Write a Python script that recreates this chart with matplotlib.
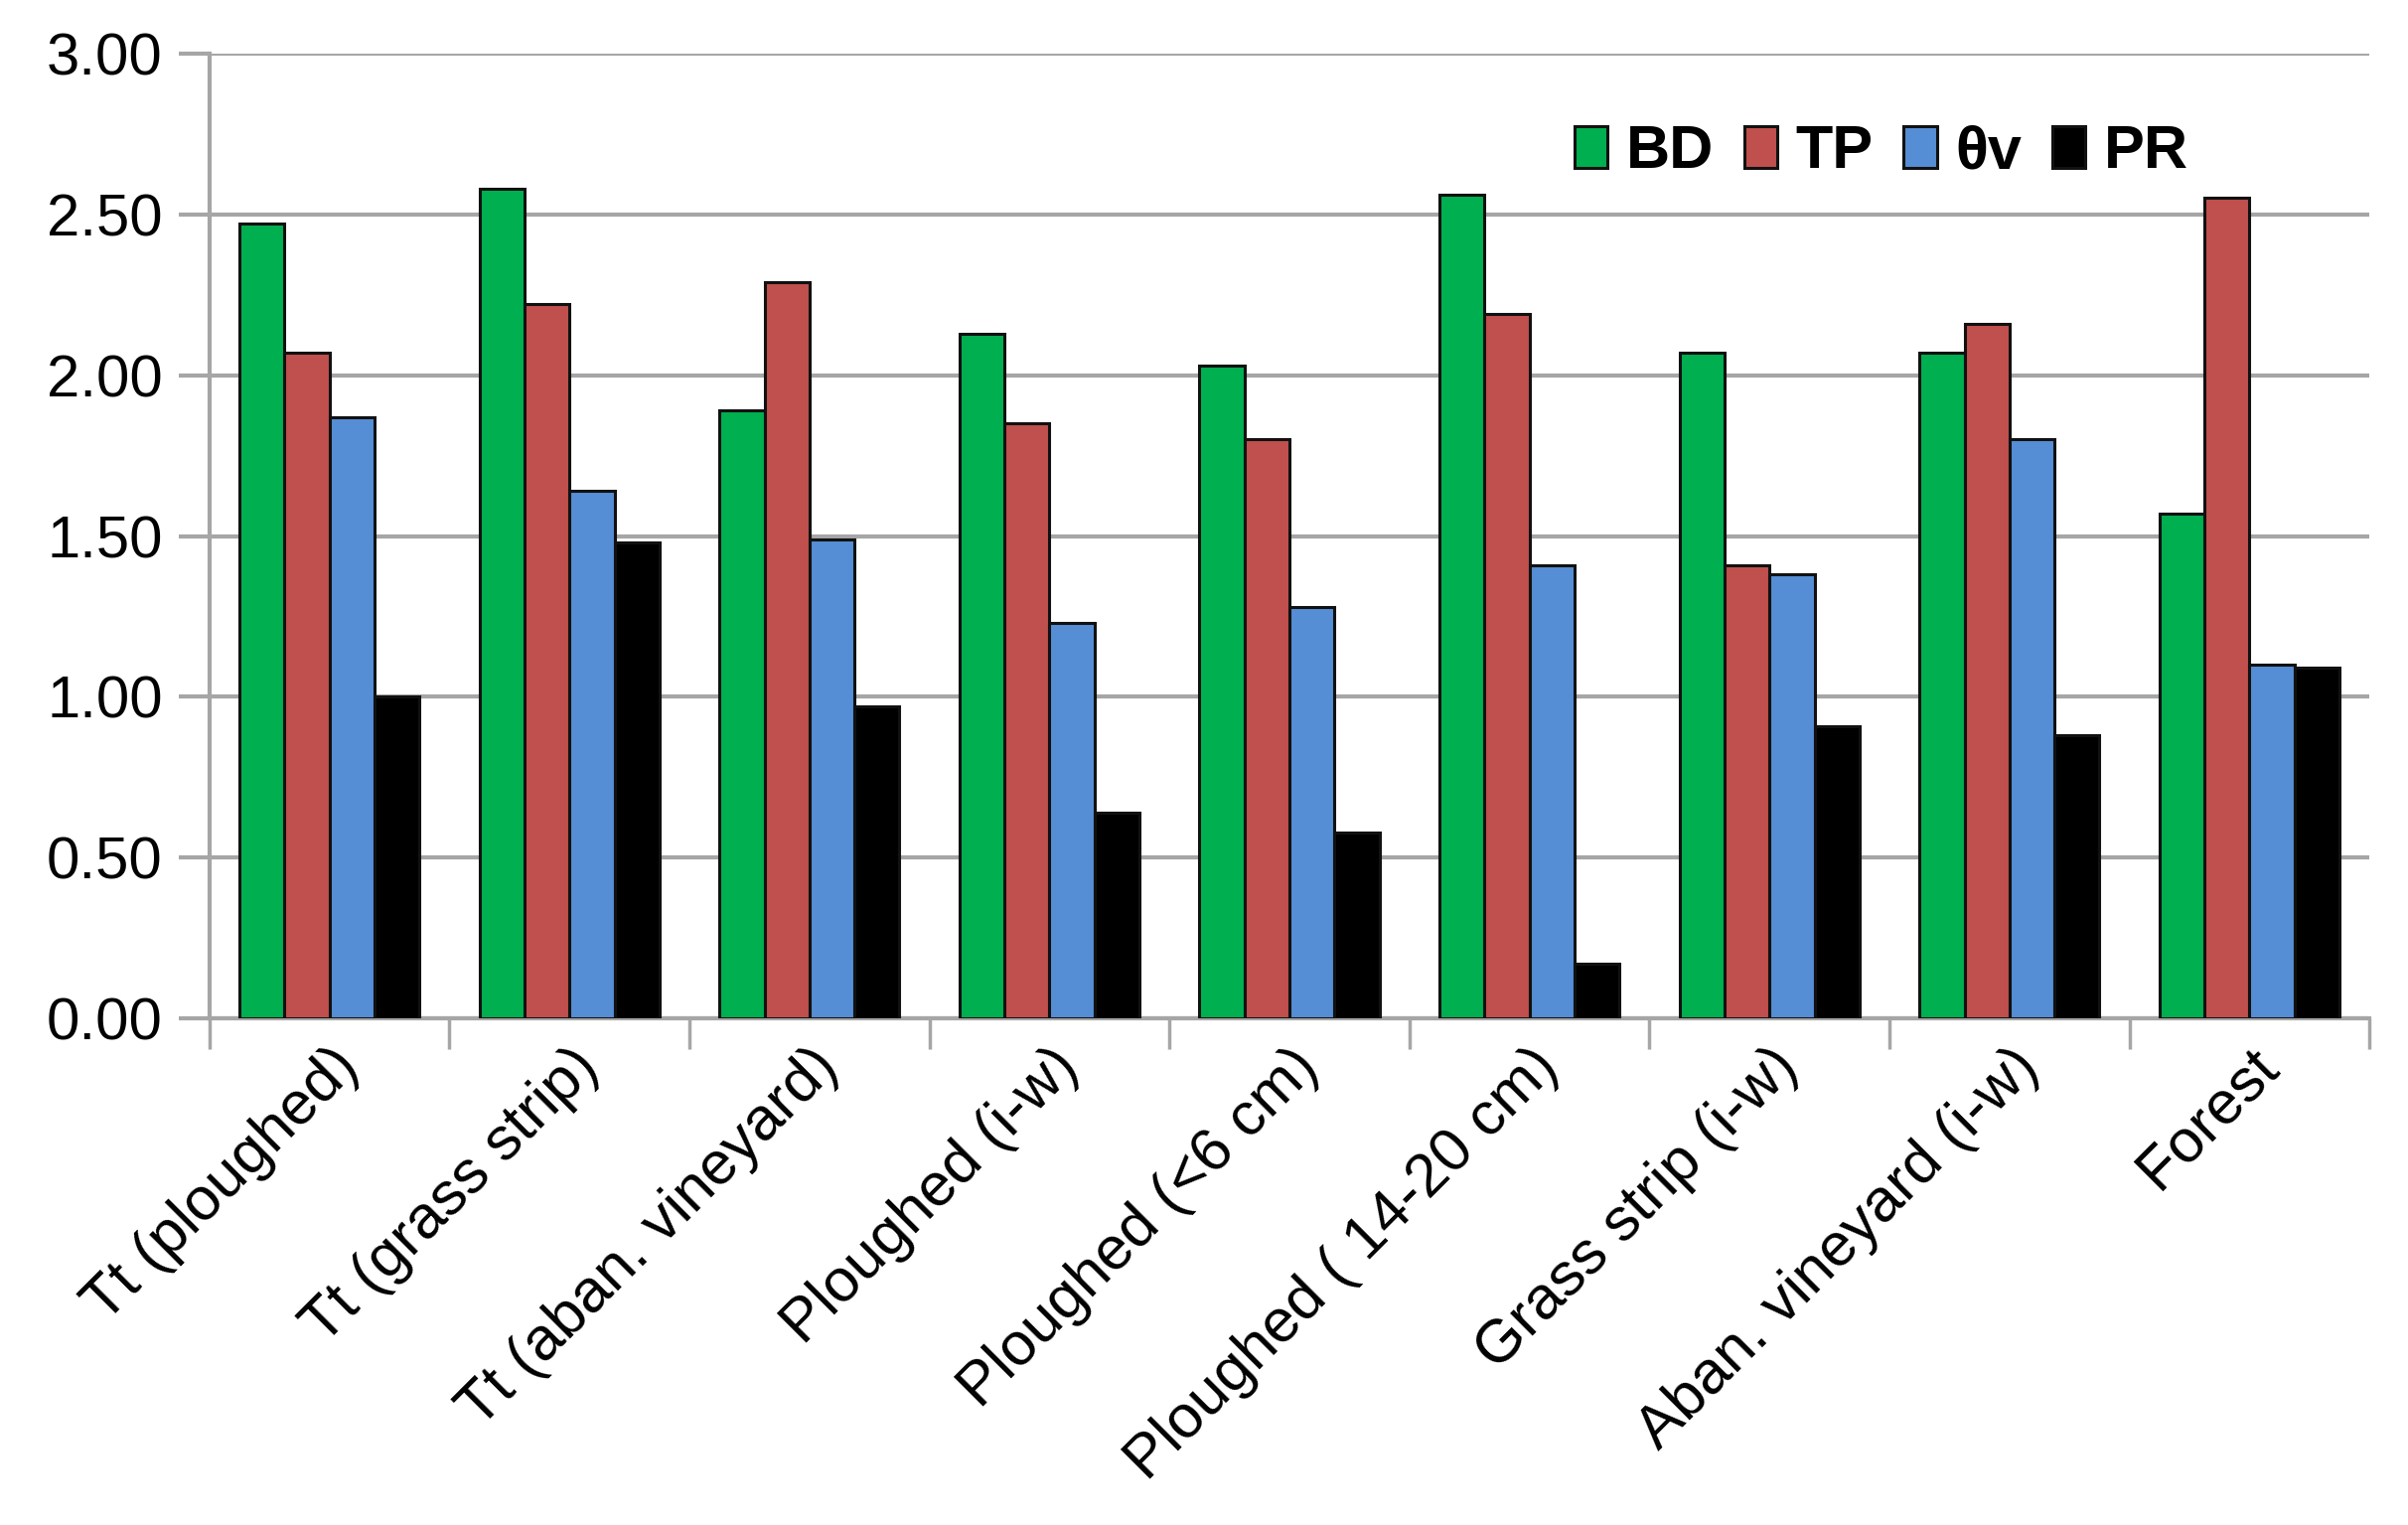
import matplotlib
matplotlib.use("Agg")
import matplotlib.pyplot as plt
import numpy as np

plt.rcParams['font.family'] = ['Liberation Sans', 'DejaVu Sans']

categories = ["Tt (ploughed)", "Tt (grass strip)", "Tt (aban. vineyard)",
              "Ploughed (i-w)", "Ploughed (<6 cm)", "Ploughed ( 14-20 cm)",
              "Grass strip (i-w)", "Aban. vineyard (i-w)", "Forest"]
series_names = ["BD", "TP", "θv", "PR"]
bd = [2.47, 2.58, 1.89, 2.13, 2.03, 2.56, 2.07, 2.07, 1.57]
tp = [2.07, 2.22, 2.29, 1.85, 1.80, 2.19, 1.41, 2.16, 2.55]
theta_v = [1.87, 1.64, 1.49, 1.23, 1.28, 1.41, 1.38, 1.80, 1.10]
pr = [1.00, 1.48, 0.97, 0.64, 0.58, 0.17, 0.91, 0.88, 1.09]
colors = ["#00B050", "#C0504D", "#558ED5", "#000000"]
yticks = [0.0, 0.5, 1.0, 1.5, 2.0, 2.5, 3.0]

fig = plt.figure(figsize=(24.24, 15.35), dpi=100)
ax = fig.add_axes([0.087, 0.332, 0.897, 0.633])

x = np.arange(len(categories))
w = 0.1875
for i, (vals, name, c) in enumerate(zip([bd, tp, theta_v, pr], series_names, colors)):
    ax.bar(x + (i - 1.5) * w, vals, width=w, color=c, edgecolor="#111111",
           linewidth=2.2, label=name, zorder=3)

grid_c = "#a6a6a6"
ax.set_xlim(-0.5, len(categories) - 0.5)
ax.set_ylim(0, 3.0)
ax.set_yticks(yticks)
ax.set_yticklabels([f"{v:.2f}" for v in yticks], fontsize=43)
ax.yaxis.grid(True, color=grid_c, linewidth=3, zorder=0)
ax.set_axisbelow(True)

# category ticks between groups, labels at centres
ax.set_xticks(np.arange(len(categories) + 1) - 0.5)
ax.set_xticklabels([])
ax.set_xticks(x, minor=True)
ax.set_xticklabels(categories, minor=True, rotation=45, ha="right",
                   rotation_mode="anchor", fontsize=44)
ax.tick_params(axis="x", which="minor", length=0, pad=14)
ax.tick_params(axis="x", which="major", length=22, width=2.5, color=grid_c)
ax.tick_params(axis="y", length=22, width=3, color=grid_c, pad=12)

for s in ["top", "right"]:
    ax.spines[s].set_visible(False)
for s in ["left", "bottom"]:
    ax.spines[s].set_color(grid_c)
    ax.spines[s].set_linewidth(3)

leg = ax.legend(loc="center", bbox_to_anchor=(0.774, 0.897), ncol=4, frameon=False,
                prop={"size": 44, "weight": "bold"}, handlelength=0.55, handleheight=0.7,
                handletextpad=0.3, columnspacing=0.5)

fig.savefig("out.png", dpi=100)
